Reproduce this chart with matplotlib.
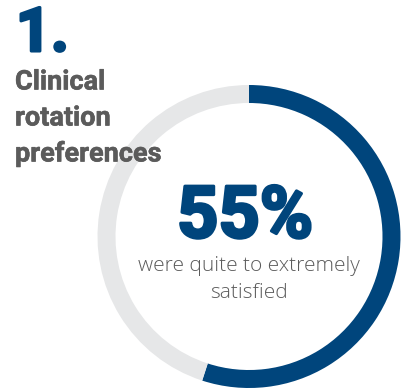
import matplotlib.pyplot as plt
import matplotlib.patheffects as pe

# -----------------------------
# Data
# -----------------------------
share = [55, 45]            # satisfied vs rest (%)
number_label = "1."
heading_lines = ["Clinical", "rotation", "preferences"]
big_label = "55%"
sub_lines = ["were quite to extremely", "satisfied"]

blue = "#00457c"
ring_grey = "#e6e7e8"
text_grey = "#5b5b5b"

W, H = 401, 389

fig = plt.figure(figsize=(W / 100, H / 100), dpi=100)
ax = fig.add_axes([0, 0, 1, 1])

# ring, clockwise from 12 o'clock
ax.pie(share, startangle=90, counterclock=False, radius=151.5,
       center=(249, H - 236.5), colors=[blue, ring_grey],
       wedgeprops=dict(width=18, linewidth=0))

ax.set_xlim(0, W)
ax.set_ylim(0, H)
ax.set_aspect("auto")
ax.axis("off")

# thicker strokes to mimic the heavy display face
heavy_blue = [pe.withStroke(linewidth=2.2, foreground=blue)]
heavy_grey = [pe.withStroke(linewidth=0.4, foreground=text_grey)]

# heading block
ax.text(16, H - 34, number_label, color=blue, fontsize=44, fontweight="bold",
        family="Roboto", va="center", ha="left", path_effects=heavy_blue)
for i, line in enumerate(heading_lines):
    ax.text(15, H - 82 - i * 36, line, color=text_grey, fontsize=19.5,
            fontweight="bold", family="Roboto", va="center", ha="left",
            path_effects=heavy_grey)

# centre labels
ax.text(245, H - 218, big_label, color=blue, fontsize=52, fontweight="bold",
        family="Roboto", va="center", ha="center", path_effects=heavy_blue)
ax.text(249, H - 266, sub_lines[0], color=text_grey, fontsize=15,
        fontweight="light", family="Open Sans", va="center", ha="center")
ax.text(249, H - 293, sub_lines[1], color=text_grey, fontsize=15,
        fontweight="light", family="Open Sans", va="center", ha="center")

fig.savefig("out.png", dpi=100)
